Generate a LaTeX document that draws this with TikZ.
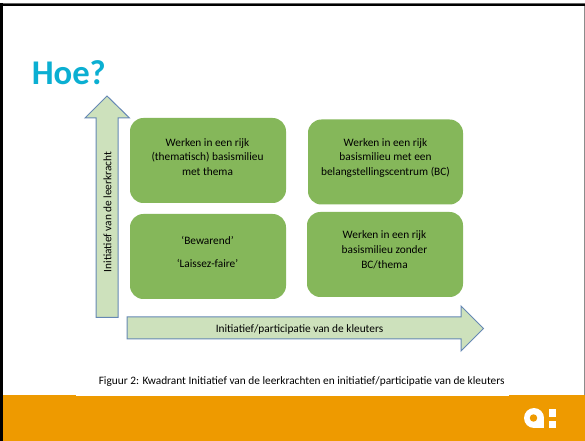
\documentclass[tikz,border=0pt]{standalone}
\usepackage{fontspec}
\setmainfont{Carlito}
\definecolor{boxgreen}{HTML}{85B75A}
\definecolor{arrowfill}{HTML}{CDE1BC}
\definecolor{arrowline}{HTML}{6688B4}
\definecolor{hoeblue}{HTML}{0BAFD2}
\definecolor{band}{HTML}{EE9A00}
\tikzset{
  quad/.style={fill=boxgreen,draw=none,rounded corners=10pt},
  quadtext/.style={align=center,font=\fontsize{8.5pt}{11.1pt}\selectfont,text=black,inner sep=0pt,anchor=center},
  bigarrow/.style={fill=arrowfill,draw=arrowline,line width=0.75pt,line join=miter},
  arrowtext/.style={font=\fontsize{8.5pt}{10pt}\selectfont,text=black,inner sep=0pt},
}
\begin{document}
\begin{tikzpicture}[x=0.75pt,y=-0.75pt]
\useasboundingbox (0,0) rectangle (585,441);
\fill[white] (0,0) rectangle (585,441);
% slide frame
\fill[black] (0,3) rectangle (585,6);
\fill[black!60] (0,3) rectangle (585,3.8);
\fill[black] (0,3) rectangle (3,441);
\fill[black!45] (584,6) rectangle (585,441);
% footer band
\fill[band] (3,396) rectangle (585,441);
\fill[band] (3,395) rectangle (76,396);
\fill[band] (509,395) rectangle (585,396);
% logo
\fill[white] (534,418) circle[radius=7.5pt];
\fill[white] (534,418) rectangle (544,428);
\fill[band] (533.5,418) circle[radius=2.8pt];
\fill[white] (549,409) rectangle (556,417);
\fill[white] (549,421) rectangle (556,428);
% title
\node[font=\fontsize{26pt}{30pt}\selectfont\bfseries,text=hoeblue,inner sep=0pt,anchor=base west] (title) at (31.5,85) {Hoe?};
% quadrant boxes
\fill[quad] (130,118) rectangle (286,203);
\fill[quad] (308,119.5) rectangle (463,204.5);
\fill[quad] (130,214) rectangle (286,299);
\fill[quad] (307,212) rectangle (463,297);
\node[quadtext] (tl) at (207.5,157) {Werken in een rijk\\(thematisch) basismilieu\\met thema};
\node[quadtext] (tr) at (385.5,158) {Werken in een rijk\\basismilieu met een\\belangstellingscentrum (BC)};
\node[quadtext] (bl1) at (207.5,240.5) {‘Bewarend’};
\node[quadtext] (bl2) at (207.5,263) {‘Laissez-faire’};
\node[quadtext] (br) at (384.5,250) {Werken in een rijk\\basismilieu zonder\\BC/thema};
% axis arrows
\draw[bigarrow] (96,317.5) -- (96,118) -- (85,118) -- (107,96) -- (129.5,118) -- (118,118) -- (118,317.5) -- cycle;
\draw[bigarrow] (127,317) -- (461,317) -- (461,306) -- (483.5,328.5) -- (461,351) -- (461,339) -- (127,339) -- cycle;
\node[arrowtext,rotate=90] (ylab) at (107.5,212) {Initiatief van de leerkracht};
\node[arrowtext] (xlab) at (299.5,329) {Initiatief/participatie van de kleuters};
% caption
\node[font=\fontsize{8.5pt}{10pt}\selectfont,text=black,inner sep=0pt,anchor=base west] (cap) at (98.5,384) {Figuur 2: Kwadrant Initiatief van de leerkrachten en initiatief/participatie van de kleuters};
\end{tikzpicture}
\end{document}
